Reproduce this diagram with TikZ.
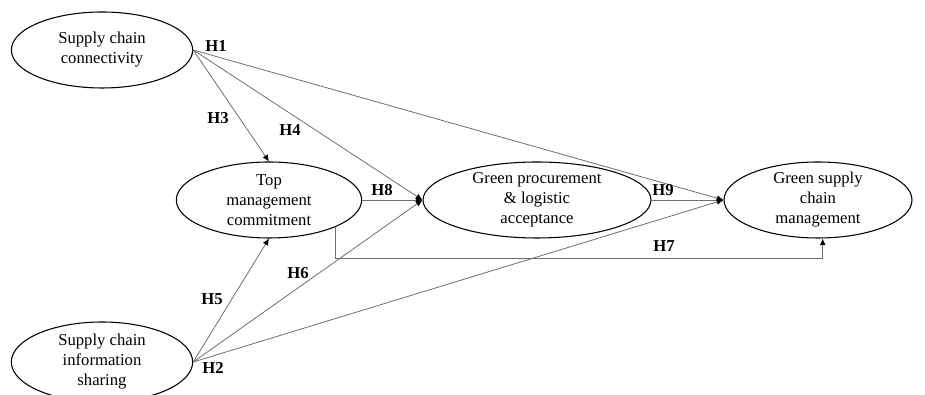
\documentclass[tikz,border=0pt]{standalone}
\usepackage{fontspec}
\setmainfont{Liberation Serif}
\usetikzlibrary{shapes.geometric,arrows.meta}
\definecolor{linkc}{HTML}{6E6E6E}

\begin{document}
\begin{tikzpicture}[x=0.75pt,y=0.75pt,
		construct/.style={ellipse,draw=black,line width=0.8pt,align=center,inner xsep=0pt,inner ysep=-3pt,minimum height=57pt,font=\fontsize{12.5}{15}\selectfont},
		link/.style={draw=linkc,line width=0.6pt,-{Latex[length=5pt,width=4.5pt,color=black]}},
		hyp/.style={font=\fontsize{12.5}{14}\selectfont\bfseries,inner sep=1pt}]
		%
		\useasboundingbox (0,0) rectangle (925,395);
		%
		\node [construct,minimum width=136pt] (scc) at (102,345) {Supply chain\\connectivity};
		\node [construct,minimum width=139pt] (tmc) at (269,195) {Top\\management\\commitment};
		\node [construct,minimum width=171pt] (gpla) at (537,195) {Green procurement\\\& logistic\\acceptance};
		\node [construct,minimum width=141pt] (gscm) at (818,195) {Green supply\\chain\\management};
		\node [construct,minimum width=136pt,minimum height=60pt] (scis) at (102,33) {Supply chain\\information\\sharing};
		%
		\draw [link] (scc.east) -- (gscm.west);
		\draw [link] (scc.east) -- (tmc.north);
		\draw [link] (scc.east) -- (gpla.west);
		\draw [link] (tmc.east) -- (gpla.west);
		\draw [link] (gpla.east) -- (gscm.west);
		\draw [link] (tmc.-22) -- ++(0,-31) -| ([xshift=3.5pt]gscm.south);
		\draw [link] (scis.east) -- (tmc.south);
		\draw [link] (scis.east) -- (gpla.west);
		\draw [link] (scis.east) -- (gscm.west);
		%
		\node [hyp] (h1) at (216,349) {H1};
		\node [hyp] (h3) at (218,277) {H3};
		\node [hyp] (h4) at (290,265) {H4};
		\node [hyp] (h8) at (382,205) {H8};
		\node [hyp] (h9) at (663,205) {H9};
		\node [hyp] (h7) at (664,149) {H7};
		\node [hyp] (h5) at (212,96) {H5};
		\node [hyp] (h6) at (298,122) {H6};
		\node [hyp] (h2) at (213,27) {H2};
	\end{tikzpicture}
\end{document}
